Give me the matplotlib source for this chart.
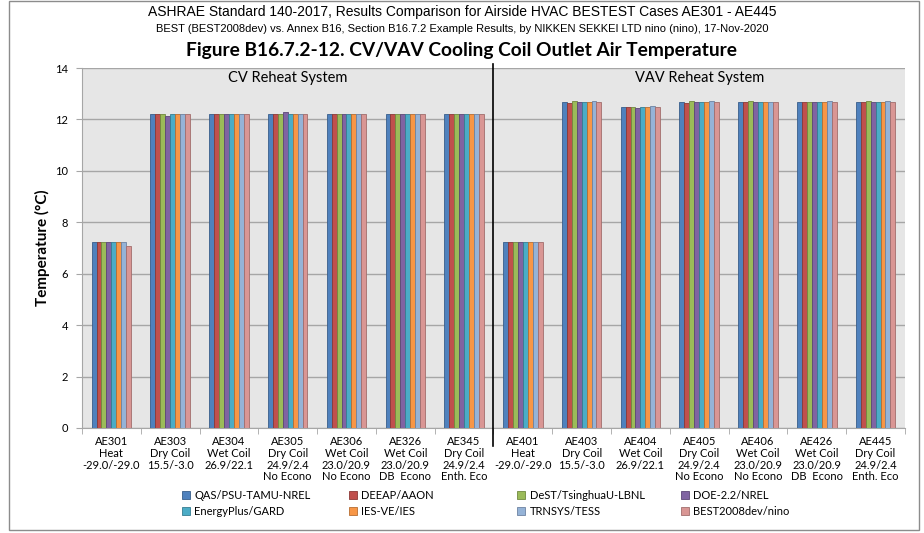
import numpy as np
import matplotlib
matplotlib.use("Agg")
import matplotlib.pyplot as plt
from matplotlib.patches import Rectangle

# Cases (x axis)
cases = ["AE301\nHeat\n-29.0/-29.0", "AE303\nDry Coil\n15.5/-3.0", "AE304\nWet Coil\n26.9/22.1",
         "AE305\nDry Coil\n24.9/2.4\nNo Econo", "AE306\nWet Coil\n23.0/20.9\nNo Econo",
         "AE326\nWet Coil\n23.0/20.9\nDB  Econo", "AE345\nDry Coil\n24.9/2.4\nEnth. Eco",
         "AE401\nHeat\n-29.0/-29.0", "AE403\nDry Coil\n15.5/-3.0", "AE404\nWet Coil\n26.9/22.1",
         "AE405\nDry Coil\n24.9/2.4\nNo Econo", "AE406\nWet Coil\n23.0/20.9\nNo Econo",
         "AE426\nWet Coil\n23.0/20.9\nDB  Econo", "AE445\nDry Coil\n24.9/2.4\nEnth. Eco"]

programs = ["QAS/PSU-TAMU-NREL", "DEEAP/AAON", "DeST/TsinghuaU-LBNL", "DOE-2.2/NREL",
            "EnergyPlus/GARD", "IES-VE/IES", "TRNSYS/TESS", "BEST2008dev/nino"]

# outlet air temperature (C), one list per program, in case order
qas        = [7.22, 12.20, 12.20, 12.20, 12.20, 12.20, 12.20, 7.22, 12.67, 12.49, 12.67, 12.67, 12.67, 12.67]
deeap      = [7.22, 12.20, 12.20, 12.20, 12.20, 12.20, 12.20, 7.22, 12.64, 12.47, 12.64, 12.67, 12.67, 12.67]
dest       = [7.22, 12.20, 12.20, 12.20, 12.20, 12.20, 12.20, 7.22, 12.70, 12.47, 12.70, 12.70, 12.67, 12.70]
doe22      = [7.22, 12.15, 12.22, 12.28, 12.22, 12.22, 12.22, 7.22, 12.67, 12.45, 12.67, 12.67, 12.67, 12.67]
energyplus = [7.22, 12.20, 12.20, 12.20, 12.20, 12.20, 12.20, 7.22, 12.67, 12.49, 12.67, 12.67, 12.67, 12.67]
iesve      = [7.22, 12.20, 12.20, 12.20, 12.20, 12.20, 12.20, 7.22, 12.67, 12.49, 12.67, 12.67, 12.67, 12.67]
trnsys     = [7.22, 12.23, 12.22, 12.22, 12.22, 12.20, 12.20, 7.22, 12.70, 12.51, 12.70, 12.67, 12.70, 12.70]
best       = [7.09, 12.20, 12.20, 12.20, 12.22, 12.20, 12.20, 7.22, 12.67, 12.47, 12.67, 12.67, 12.67, 12.67]

series = [qas, deeap, dest, doe22, energyplus, iesve, trnsys, best]
colors = ["#4F81BD", "#C0504D", "#9BBB59", "#8064A2", "#4BACC6", "#F79646", "#95B3D7", "#D99694"]
edges = ["#385D8A", "#8C3836", "#71893F", "#5C4776", "#357D91", "#B66D31", "#6D83A2", "#A16E6D"]

plt.rcParams['font.family'] = ['Lato', 'DejaVu Sans']

fig = plt.figure(figsize=(9.24, 5.33), dpi=100)
ax = fig.add_axes([0.0887, 0.197, 0.8907, 0.6754])
ax.set_facecolor("#E6E6E6")

x = np.arange(len(cases))
bw = 0.084
handles = []
for i, vals in enumerate(series):
    b = ax.bar(x + (i - 3.5) * bw, vals, bw, color=colors[i], edgecolor=edges[i],
               linewidth=0.6, label=programs[i], zorder=3)
    handles.append(b)

ax.set_xlim(-0.5, len(cases) - 0.5)
ax.set_ylim(0, 14)
ax.set_yticks(np.arange(0, 15, 2))
ax.yaxis.grid(True, color="#A6A6A6", linewidth=1, zorder=0)
ax.set_axisbelow(True)

ax.set_xticks(x)
ax.set_xticklabels(cases, fontsize=8, linespacing=1.08)
ax.set_xticks(np.arange(-0.5, len(cases), 1), minor=True)
ax.tick_params(axis="x", which="major", length=0, pad=6)
ax.tick_params(axis="x", which="minor", length=4, color="#A6A6A6")
ax.tick_params(axis="y", labelsize=8, length=4, color="#A6A6A6", pad=6)

for s in ["top", "right"]:
    ax.spines[s].set_visible(False)
for s in ["left", "bottom"]:
    ax.spines[s].set_color("#A6A6A6")

ax.set_ylabel("Temperature (°C)", fontsize=11, fontweight="bold")

# system divider and labels
ax.axvline(6.5, ymin=-0.05, ymax=1.01, color="black", linewidth=1.2, clip_on=False, zorder=4)
ax.text(3.0, 13.6, "CV Reheat System", ha="center", va="center", fontsize=10.5)
ax.text(10.0, 13.6, "VAV Reheat System", ha="center", va="center", fontsize=10.5)

# titles
fig.text(0.5, 0.977, "ASHRAE Standard 140-2017, Results Comparison for Airside HVAC BESTEST Cases AE301 - AE445",
         ha="center", va="center", fontsize=10, family="Liberation Sans")
fig.text(0.5, 0.946, "BEST (BEST2008dev) vs. Annex B16, Section B16.7.2 Example Results, by NIKKEN SEKKEI LTD nino (nino), 17-Nov-2020",
         ha="center", va="center", fontsize=8, family="Liberation Sans")
fig.text(0.5, 0.906, "Figure B16.7.2-12. CV/VAV Cooling Coil Outlet Air Temperature",
         ha="center", va="center", fontsize=13.8, fontweight="bold")

# legend: 4 evenly spaced columns of 2 rows, like Excel
col_x = [0.197, 0.378, 0.560, 0.737]
for c in range(4):
    idx = [c, c + 4]
    leg = fig.legend([handles[k] for k in idx], [programs[k] for k in idx], ncol=1,
                     loc="center left", bbox_to_anchor=(col_x[c], 0.056), frameon=False,
                     fontsize=8, handlelength=0.7, handleheight=0.7, handletextpad=0.4,
                     labelspacing=0.45, borderpad=0, borderaxespad=0)

fig.patches.append(Rectangle((0.0097, 0.0056), 0.985, 0.992, transform=fig.transFigure,
                             fill=False, edgecolor="#8C8C8C", linewidth=1))

fig.savefig("out.png", dpi=100)
